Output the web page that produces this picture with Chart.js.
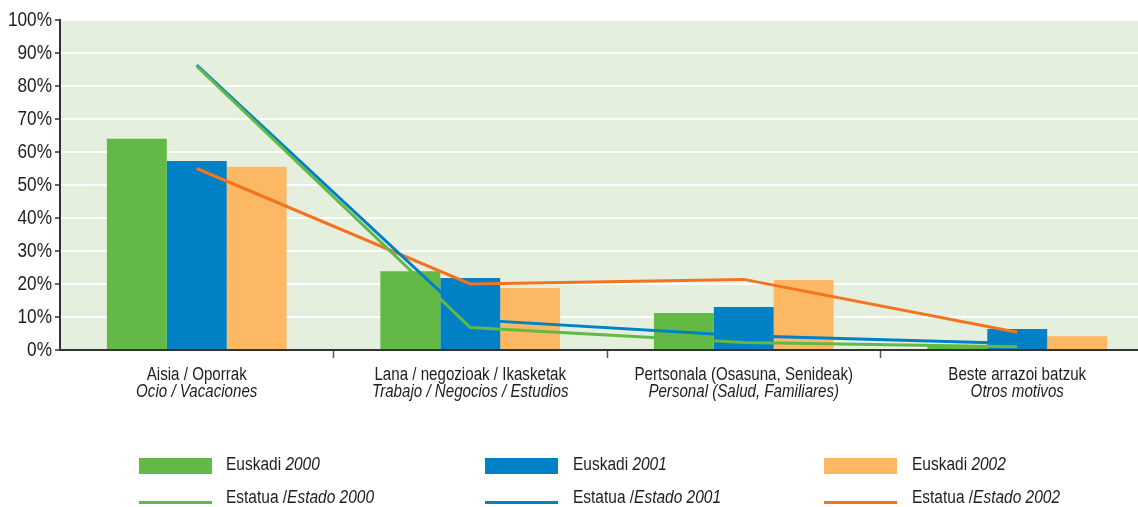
<!DOCTYPE html>
<html>
<head>
<meta charset="utf-8">
<script src="https://cdn.jsdelivr.net/npm/chart.js@4"></script>
<style>
  html, body { margin: 0; padding: 0; overflow: hidden; background: #fff; width: 1138px; height: 507px; }
  #wrap { position: absolute; left: 0; top: 0; width: 1154px; height: 507px; }
  .lg { position: absolute; font-family: "Liberation Sans", Arial, sans-serif; font-size: 18px; color: #1e1e1e; white-space: nowrap; line-height: 20px; transform: scaleX(0.86); transform-origin: left center; }
  .sw { position: absolute; }
</style>
</head>
<body>
<div id="wrap"><canvas id="c"></canvas></div>
<div id="legend"></div>
<script>
const FONT = '"Liberation Sans", Arial, sans-serif';
const SQUEEZE = 0.84;

const categoriesEu = ['Aisia / Oporrak', 'Lana / negozioak / Ikasketak', 'Pertsonala (Osasuna, Senideak)', 'Beste arrazoi batzuk'];
const categoriesEs = ['Ocio / Vacaciones', 'Trabajo / Negocios / Estudios', 'Personal (Salud, Familiares)', 'Otros motivos'];

const euskadi2000 = [64.0, 23.9, 11.2, 1.5];
const euskadi2001 = [57.3, 21.8, 13.0, 6.4];
const euskadi2002 = [55.5, 18.8, 21.2, 4.2];
const estado2000 = [86.0, 6.8, 2.3, 1.0];
const estado2001 = [86.3, 9.2, 4.3, 2.0];
const estado2002 = [55.0, 20.0, 21.4, 5.4];

const yTicks = [0, 10, 20, 30, 40, 50, 60, 70, 80, 90, 100];
const yTickLabels = ['0%', '10%', '20%', '30%', '40%', '50%', '60%', '70%', '80%', '90%', '100%'];

const C_GREEN = '#62b946';
const C_BLUE = '#0081c6';
const C_ORANGE_BAR = '#fdb863';
const C_ORANGE_LINE = '#f47321';

const bgPlugin = {
  id: 'bg',
  beforeDraw(chart) {
    const a = chart.chartArea, ctx = chart.ctx;
    ctx.save();
    ctx.fillStyle = '#e5efdd';
    ctx.fillRect(a.left, a.top, a.right - a.left, a.bottom - a.top);
    ctx.restore();
  }
};

function squeezedText(ctx, text, x, y, align) {
  ctx.save();
  ctx.translate(x, y);
  ctx.scale(SQUEEZE, 1);
  ctx.textAlign = align;
  ctx.fillText(text, 0, 0);
  ctx.restore();
}

const labelPlugin = {
  id: 'labels',
  afterDraw(chart) {
    const ctx = chart.ctx, xs = chart.scales.x, ys = chart.scales.y;
    ctx.save();
    ctx.fillStyle = '#1e1e1e';
    ctx.textBaseline = 'middle';
    categoriesEu.forEach((t, i) => {
      const x = xs.getPixelForValue(i);
      ctx.font = '18px ' + FONT;
      squeezedText(ctx, t, x, 375, 'center');
      ctx.font = 'italic 18px ' + FONT;
      squeezedText(ctx, categoriesEs[i], x, 392, 'center');
    });
    ctx.font = '20.5px ' + FONT;
    yTicks.forEach((v, i) => {
      squeezedText(ctx, yTickLabels[i], 52, ys.getPixelForValue(v), 'right');
    });
    ctx.restore();
  }
};

new Chart(document.getElementById('c'), {
  data: {
    labels: categoriesEu,
    datasets: [
      { type: 'line', label: 'Estatua / Estado 2000', data: estado2000, borderColor: C_GREEN, borderWidth: 3, pointRadius: 0, tension: 0, order: 0 },
      { type: 'line', label: 'Estatua / Estado 2001', data: estado2001, borderColor: C_BLUE, borderWidth: 3, pointRadius: 0, tension: 0, order: 1 },
      { type: 'line', label: 'Estatua / Estado 2002', data: estado2002, borderColor: C_ORANGE_LINE, borderWidth: 3, pointRadius: 0, tension: 0, order: 2 },
      { type: 'bar', label: 'Euskadi 2000', data: euskadi2000, backgroundColor: C_GREEN, order: 3, categoryPercentage: 0.657, barPercentage: 1.0 },
      { type: 'bar', label: 'Euskadi 2001', data: euskadi2001, backgroundColor: C_BLUE, order: 3, categoryPercentage: 0.657, barPercentage: 1.0 },
      { type: 'bar', label: 'Euskadi 2002', data: euskadi2002, backgroundColor: C_ORANGE_BAR, order: 3, categoryPercentage: 0.657, barPercentage: 1.0 }
    ]
  },
  options: {
    responsive: true,
    maintainAspectRatio: false,
    animation: false,
    layout: { padding: { top: 20, left: 0, right: 0, bottom: 0 } },
    plugins: { legend: { display: false }, tooltip: { enabled: false } },
    scales: {
      x: {
        type: 'category',
        offset: true,
        grid: {
          offset: true, drawOnChartArea: false, drawTicks: true, tickLength: 8, tickWidth: 1.5,
          tickColor: (c) => (c.index === 0 ? 'rgba(0,0,0,0)' : '#555')
        },
        border: { color: '#333', width: 2 },
        ticks: { display: false },
        afterFit(scale) { scale.height = 157; }
      },
      y: {
        min: 0, max: 100,
        afterBuildTicks(scale) { scale.ticks = yTicks.map(v => ({ value: v })); },
        grid: { color: '#ffffff', lineWidth: 2, tickColor: '#333', tickLength: 5, tickWidth: 1.5 },
        border: { color: '#333', width: 2 },
        ticks: { display: false },
        afterFit(scale) { scale.width = 60; }
      }
    }
  },
  plugins: [bgPlugin, labelPlugin]
});

// Legend
const legendItems = [
  { kind: 'box', color: C_GREEN, x: 139, y: 458, tx: 226, ty: 454, main: 'Euskadi ', it: '2000' },
  { kind: 'box', color: C_BLUE, x: 485, y: 458, tx: 573, ty: 454, main: 'Euskadi ', it: '2001' },
  { kind: 'box', color: C_ORANGE_BAR, x: 824, y: 458, tx: 912, ty: 454, main: 'Euskadi ', it: '2002' },
  { kind: 'line', color: C_GREEN, x: 139, y: 501, tx: 226, ty: 487, main: 'Estatua /', it: 'Estado 2000' },
  { kind: 'line', color: C_BLUE, x: 485, y: 501, tx: 573, ty: 487, main: 'Estatua /', it: 'Estado 2001' },
  { kind: 'line', color: C_ORANGE_LINE, x: 824, y: 501, tx: 912, ty: 487, main: 'Estatua /', it: 'Estado 2002' }
];
const lg = document.getElementById('legend');
legendItems.forEach(it => {
  const s = document.createElement('div');
  s.className = 'sw';
  s.style.left = it.x + 'px';
  s.style.top = it.y + 'px';
  s.style.width = '73px';
  s.style.height = (it.kind === 'box' ? 16 : 3) + 'px';
  s.style.background = it.color;
  lg.appendChild(s);
  const t = document.createElement('div');
  t.className = 'lg';
  t.style.left = it.tx + 'px';
  t.style.top = it.ty + 'px';
  t.innerHTML = it.main + '<i>' + it.it + '</i>';
  lg.appendChild(t);
});
</script>
</body>
</html>
